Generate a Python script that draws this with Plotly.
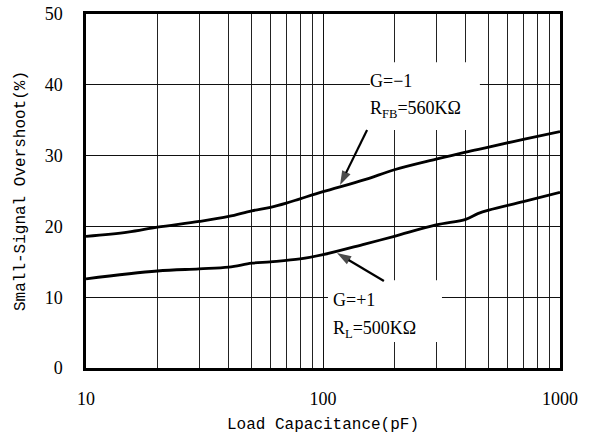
import plotly.graph_objects as go

# Data
cap_pf = [10, 15, 20, 30, 40, 50, 60, 70, 80, 100, 150, 200, 300, 400, 500, 700, 1000]
overshoot_g_neg1 = [18.6, 19.2, 19.9, 20.7, 21.4, 22.2, 22.7, 23.3, 23.9, 24.9, 26.6, 28.0, 29.5, 30.5, 31.2, 32.3, 33.4]

cap_pf_b = [10, 20, 30, 40, 50, 60, 80, 100, 150, 200, 300, 400, 450, 500, 700, 1000]
overshoot_g_pos1 = [12.6, 13.7, 14.0, 14.25, 14.8, 15.0, 15.4, 16.0, 17.5, 18.6, 20.2, 21.0, 21.8, 22.3, 23.5, 24.8]

x_ticks = [10, 100, 1000]
y_ticks = [0, 10, 20, 30, 40, 50]

# label call-outs: arrow (tail -> head) in data coordinates
arrow_upper_x = [10**2.186, 10**2.072]
arrow_upper_y = [33.6, 25.85]
arrow_lower_x = [10**2.257, 10**2.059]
arrow_lower_y = [12.29, 16.24]

fig = go.Figure()
fig.add_trace(go.Scatter(x=cap_pf, y=overshoot_g_neg1, mode="lines",
                         line=dict(color="black", width=2.8), line_shape="spline",
                         showlegend=False, hoverinfo="skip"))
fig.add_trace(go.Scatter(x=cap_pf_b, y=overshoot_g_pos1, mode="lines",
                         line=dict(color="black", width=2.8), line_shape="spline",
                         showlegend=False, hoverinfo="skip"))

for ax_, ay_ in ((arrow_upper_x, arrow_upper_y), (arrow_lower_x, arrow_lower_y)):
    fig.add_trace(go.Scatter(x=ax_, y=ay_, mode="lines+markers",
                             line=dict(color="black", width=2.2),
                             marker=dict(symbol="arrow", size=[0, 15], angleref="previous",
                                         color="black", line=dict(width=0)),
                             showlegend=False, hoverinfo="skip"))

minor_vals = [v * d for d in (10, 100) for v in range(2, 10)]

fig.update_xaxes(type="log", range=[1, 3], tickvals=x_ticks,
                 ticktext=[str(v) for v in x_ticks],
                 showgrid=True, gridcolor="#111", gridwidth=1,
                 minor=dict(tickvals=minor_vals, showgrid=True, gridcolor="#222", gridwidth=1, ticks=""),
                 showline=True, linecolor="black", linewidth=2.5, mirror=True,
                 ticks="", ticklabelstandoff=13, automargin=False,
                 tickfont=dict(family="Liberation Serif", size=18, color="black"),
                 title=dict(text="Load Capacitance(pF)", standoff=10,
                            font=dict(family="Liberation Mono", size=16, color="black")),
                 zeroline=False)
fig.update_yaxes(range=[0, 50], tickvals=y_ticks,
                 showgrid=True, gridcolor="#111", gridwidth=1,
                 showline=True, linecolor="black", linewidth=2.5, mirror=True,
                 ticks="", ticklabelstandoff=17, automargin=False,
                 tickfont=dict(family="Liberation Serif", size=18, color="black"),
                 title=dict(text="Small-Signal Overshoot(%)", standoff=16,
                            font=dict(family="Liberation Mono", size=16, color="black")),
                 zeroline=False)

fig.add_shape(type="rect", xref="x", yref="y", x0=10**2.198, x1=10**2.662, y0=33.6, y1=43.2,
              fillcolor="white", line=dict(width=0), layer="between")
fig.add_shape(type="rect", xref="x", yref="y", x0=10**2.021, x1=10**2.502, y0=3.67, y1=12.4,
              fillcolor="white", line=dict(width=0), layer="between")

tf = dict(family="Liberation Serif", size=18, color="black")
labels = [
    (2.19, 40.58, "G=\u22121"),
    (2.19, 36.5, "R<sub>FB</sub>=560K\u03a9"),
    (2.034, 9.6, "G=+1"),
    (2.034, 5.5, "R<sub>L</sub>=500K\u03a9"),
]
for x, y, t in labels:
    fig.add_annotation(x=x, y=y, xref="x", yref="y", text=t, showarrow=False,
                       xanchor="left", yanchor="middle", font=tf)

fig.update_layout(width=593, height=439, margin=dict(l=86, r=33, t=14, b=71),
                  plot_bgcolor="white", paper_bgcolor="white")
fig.write_html("out.html", config={"displayModeBar": False},
               post_script="document.body.style.margin='0';")
